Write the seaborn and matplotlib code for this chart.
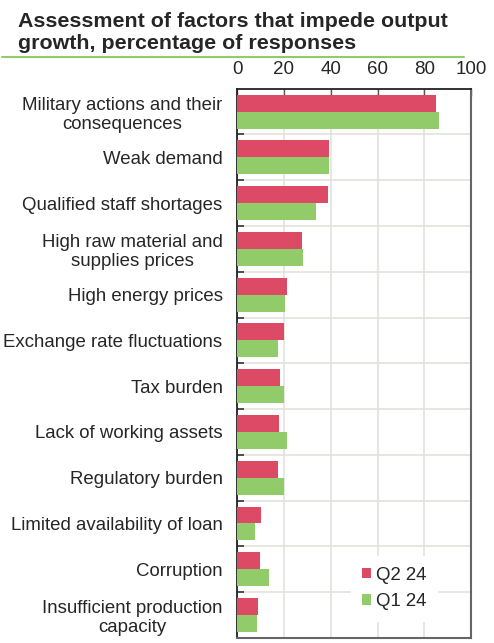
import matplotlib
matplotlib.use('Agg')
import matplotlib.pyplot as plt
import seaborn as sns
import pandas as pd
import numpy as np
from matplotlib.lines import Line2D

factors = ['Military actions and their\nconsequences', 'Weak demand',
           'Qualified staff shortages', 'High raw material and\nsupplies prices',
           'High energy prices', 'Exchange rate fluctuations', 'Tax burden',
           'Lack of working assets', 'Regulatory burden',
           'Limited availability of loan', 'Corruption',
           'Insufficient production\ncapacity']
q2_24 = [84.9, 39.3, 38.8, 27.6, 21.1, 20.1, 18.1, 17.8, 17.3, 10.1, 9.6, 9.1]
q1_24 = [86.3, 39.2, 33.9, 28.1, 20.4, 17.5, 20.0, 21.1, 20.0, 7.6, 13.8, 8.6]
series = ['Q2 24', 'Q1 24']
colors = {'Q2 24': '#DC4A66', 'Q1 24': '#92CB69'}

df = pd.DataFrame({
    'factor': factors * 2,
    'value': q2_24 + q1_24,
    'period': [series[0]] * len(factors) + [series[1]] * len(factors),
})

sns.set_style('white')
plt.rcParams['font.family'] = ['Liberation Sans', 'DejaVu Sans']

fig = plt.figure(figsize=(4.94, 6.43), dpi=100)
ax = fig.add_axes([0.48, 0.008, 0.474, 0.854])

sns.barplot(data=df, y='factor', x='value', hue='period', orient='h',
            palette=colors, width=0.74, ax=ax, saturation=1,
            edgecolor='none', zorder=3)

ax.set_xlim(0, 100)
ax.set_ylim(len(factors) - 0.5, -0.5)
ax.set_xticks(np.arange(0, 101, 20))
ax.xaxis.tick_top()
ax.tick_params(axis='x', which='major', direction='in', length=5, width=1,
               color='#555555', labelsize=13.5, pad=8, labeltop=True,
               labelbottom=False)
ax.set_yticks(range(len(factors)))
ax.set_yticks(np.arange(0.5, len(factors) - 0.5, 1), minor=True)
ax.set_yticklabels(factors, fontsize=13.4, multialignment='center',
                   linespacing=1.15)
ax.tick_params(axis='y', which='major', length=0, pad=10.5)
ax.tick_params(axis='y', which='minor', direction='in', length=5, width=1.2,
               color='#333333', left=True)
ax.set_xlabel('')
ax.set_ylabel('')

ax.grid(axis='x', which='major', color='#E3E3DC', linewidth=1.2, zorder=0)
ax.grid(axis='y', which='minor', color='#E3E3DC', linewidth=1.2, zorder=0)
ax.set_axisbelow(True)

for side in ['top', 'left']:
    ax.spines[side].set_color('#222222')
    ax.spines[side].set_linewidth(1.3)
for side in ['right', 'bottom']:
    ax.spines[side].set_color('#666666')
    ax.spines[side].set_linewidth(1.5)

leg = ax.legend(loc='center', bbox_to_anchor=(0.67, 0.09), fontsize=13.4,
                handlelength=0.5, handleheight=0.5, handletextpad=0.25,
                labelspacing=0.5, frameon=True, fancybox=False,
                borderpad=0.6)
leg.get_frame().set_facecolor('white')
leg.get_frame().set_edgecolor('white')
leg.get_frame().set_alpha(1)

fig.text(0.036, 0.982, 'Assessment of factors that impede output\ngrowth, percentage of responses',
         fontsize=15.4, fontweight='bold', va='top', ha='left', linespacing=1.25)
fig.add_artist(Line2D([0.004, 0.94], [0.911, 0.911], color='#92CB69',
                      linewidth=1.5, transform=fig.transFigure))

fig.savefig('out.png', dpi=100)
